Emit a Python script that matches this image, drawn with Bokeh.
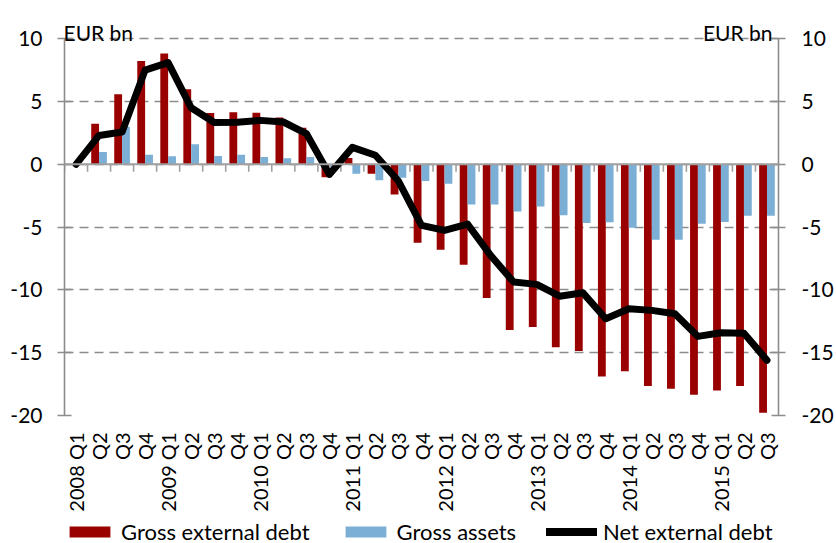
import numpy as np
from bokeh.plotting import figure
from bokeh.layouts import column
from bokeh.models import (Range1d, ColumnDataSource, LinearAxis, FixedTicker,
                          Span, Label, Legend, LegendItem, NumeralTickFormatter)
from bokeh.transform import dodge
from bokeh.embed import file_html
from bokeh.resources import INLINE

# ---------------- data ----------------
categories = [
    "2008 Q1", "2008 Q2", "2008 Q3", "2008 Q4",
    "2009 Q1", "2009 Q2", "2009 Q3", "2009 Q4",
    "2010 Q1", "2010 Q2", "2010 Q3", "2010 Q4",
    "2011 Q1", "2011 Q2", "2011 Q3", "2011 Q4",
    "2012 Q1", "2012 Q2", "2012 Q3", "2012 Q4",
    "2013 Q1", "2013 Q2", "2013 Q3", "2013 Q4",
    "2014 Q1", "2014 Q2", "2014 Q3", "2014 Q4",
    "2015 Q1", "2015 Q2", "2015 Q3",
]
tick_labels = [
    "2008 Q1", "Q2", "Q3", "Q4",
    "2009 Q1", "Q2", "Q3", "Q4",
    "2010 Q1", "Q2", "Q3", "Q4",
    "2011 Q1", "Q2", "Q3", "Q4",
    "2012 Q1", "Q2", "Q3", "Q4",
    "2013 Q1", "Q2", "Q3", "Q4",
    "2014 Q1", "Q2", "Q3", "Q4",
    "2015 Q1", "Q2", "Q3",
]
gross_external_debt = [
    0.0, 3.24, 5.58, 8.23,
    8.82, 5.98, 4.09, 4.14,
    4.10, 3.72, 2.92, -1.03,
    0.50, -0.75, -2.40, -6.24,
    -6.80, -8.00, -10.65, -13.20,
    -12.96, -14.56, -14.87, -16.90,
    -16.47, -17.66, -17.87, -18.35,
    -18.00, -17.66, -19.79,
]
gross_assets = [
    0.0, 0.98, 3.00, 0.77,
    0.64, 1.60, 0.67, 0.77,
    0.59, 0.48, 0.59, -0.20,
    -0.75, -1.27, -1.06, -1.33,
    -1.54, -3.19, -3.19, -3.75,
    -3.35, -4.06, -4.67, -4.62,
    -5.05, -6.00, -6.00, -4.73,
    -4.60, -4.09, -4.09,
]
net_external_debt = [
    0.0, 2.30, 2.57, 7.50,
    8.10, 4.50, 3.33, 3.35,
    3.50, 3.37, 2.45, -0.80,
    1.35, 0.72, -1.33, -4.86,
    -5.26, -4.76, -7.25, -9.37,
    -9.56, -10.50, -10.22, -12.30,
    -11.50, -11.63, -11.90, -13.70,
    -13.41, -13.45, -15.60,
]
series_names = ["Gross external debt", "Gross assets", "Net external debt"]
y_ticks = [-20, -15, -10, -5, 0, 5, 10]
y_min, y_max = -20, 10
unit_label = "EUR bn"

RED = "#990000"
BLUE = "#7bafd5"
GRAY = "#8c8c8c"
AXGRAY = "#a0a0a0"
FONT = "Lato"

idx = list(range(len(categories)))
src = ColumnDataSource(dict(idx=idx, debt=gross_external_debt,
                            assets=gross_assets, net=net_external_debt))

p = figure(x_range=Range1d(-0.5, len(categories) - 0.5),
           y_range=Range1d(y_min, y_max + 1.85),
           width=836, height=519, output_backend="svg", toolbar_location=None,
           min_border_left=64, min_border_right=56, min_border_top=15,
           min_border_bottom=104)
p.outline_line_color = None
p.background_fill_color = "white"

# grid
p.xgrid.visible = False
p.ygrid.ticker = FixedTicker(ticks=y_ticks)
p.ygrid.grid_line_color = GRAY
p.ygrid.grid_line_width = 1.6
p.ygrid.grid_line_dash = "9 6"

# bars
r_debt = p.vbar(x=dodge("idx", -0.17), top="debt", bottom=0,
                width=0.34, fill_color=RED, line_color=None, source=src)
r_assets = p.vbar(x=dodge("idx", 0.17), top="assets", bottom=0,
                  width=0.34, fill_color=BLUE, line_color=None, source=src)

# category axis line at zero with ticks between categories
p.add_layout(Span(location=0, dimension="width", line_color=AXGRAY, line_width=2))
p.segment(x0=dodge("idx", -0.5), y0=0, x1=dodge("idx", -0.5), y1=-0.6,
          line_color=AXGRAY, line_width=1.6, source=src)

# net line
r_net = p.line(x="idx", y="net", line_color="black", line_width=7,
               line_join="round", line_cap="round", source=src)

# category labels
xa = p.xaxis[0]
xa.ticker = FixedTicker(ticks=idx)
xa.major_label_overrides = {i: t for i, t in zip(idx, tick_labels)}
xa.major_label_orientation = np.pi / 2
xa.axis_line_color = None
xa.major_tick_line_color = None
xa.minor_tick_line_color = None
xa.major_tick_out = 0
xa.major_tick_in = 0
xa.major_label_standoff = 17
xa.major_label_text_font = FONT
xa.major_label_text_font_size = "20px"
xa.major_label_text_color = "black"

def style_y(ax, standoff):
    ax.ticker = FixedTicker(ticks=y_ticks)
    ax.formatter = NumeralTickFormatter(format="0")
    ax.bounds = (y_min, y_max)
    ax.axis_line_color = GRAY
    ax.axis_line_width = 1.6
    ax.major_tick_line_color = GRAY
    ax.major_tick_line_width = 1.6
    ax.major_tick_out = 7
    ax.major_tick_in = 7
    ax.minor_tick_line_color = None
    ax.major_label_standoff = standoff
    ax.major_label_text_font = FONT
    ax.major_label_text_font_size = "21px"
    ax.major_label_text_color = "black"

style_y(p.yaxis[0], 15)
right_axis = LinearAxis()
style_y(right_axis, 16)
p.add_layout(right_axis, "right")

# unit labels (inside the frame area above the 10 gridline)
p.add_layout(Label(x=-0.5, y=y_max, x_offset=-1, y_offset=6,
                   text=unit_label, text_font=FONT, text_font_size="21px",
                   text_align="left", text_baseline="alphabetic", text_color="black"))
p.add_layout(Label(x=len(categories) - 0.5, y=y_max, x_offset=-6, y_offset=6,
                   text=unit_label, text_font=FONT, text_font_size="21px",
                   text_align="right", text_baseline="alphabetic", text_color="black"))

# ---------------- legend strip ----------------
# same data, drawn outside this strip's visible y-range: only the legend shows
q = figure(width=836, height=24, output_backend="svg", toolbar_location=None,
           x_axis_location=None, y_axis_location=None,
           x_range=Range1d(-0.5, len(categories) - 0.5), y_range=Range1d(100, 101),
           min_border_left=0, min_border_right=0, min_border_top=0,
           min_border_bottom=0)
q.outline_line_color = None
q.grid.visible = False
l_debt = q.vbar(x="idx", top="debt", bottom=0, width=0.34, fill_color=RED,
                line_color=None, source=src)
l_assets = q.vbar(x="idx", top="assets", bottom=0, width=0.34, fill_color=BLUE,
                  line_color=None, source=src)
l_net = q.line(x="idx", y="net", line_color="black", line_width=8,
               line_cap="round", source=src)

legend = Legend(items=[LegendItem(label=series_names[0], renderers=[l_debt]),
                       LegendItem(label=series_names[1], renderers=[l_assets]),
                       LegendItem(label=series_names[2], renderers=[l_net])],
                location="left", orientation="horizontal",
                border_line_color=None, background_fill_alpha=0,
                padding=0, margin=0, spacing=30, glyph_width=51, glyph_height=14,
                label_standoff=6, label_text_font=FONT, label_text_font_size="22px",
                label_text_color="black")
q.add_layout(legend, "center")

open("out.html", "w").write(file_html(column(p, q, spacing=0), INLINE))
